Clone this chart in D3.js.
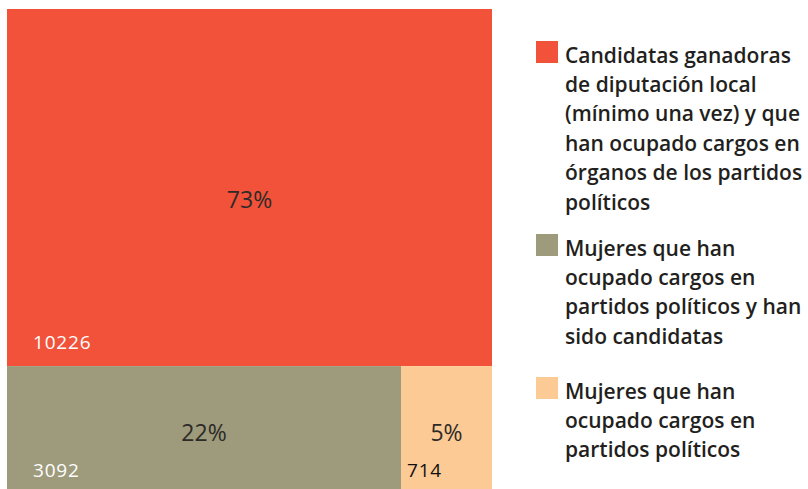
<!DOCTYPE html>
<html><head><meta charset="utf-8">
<script src="https://cdn.jsdelivr.net/npm/d3@7"></script>
<style>html,body{margin:0;padding:0;background:#fff;overflow:hidden}</style>
</head><body>
<svg id="chart" width="808" height="489"></svg>
<script>
const categories = ["ganadoras", "candidatas", "cargos"];
const values = [10226, 3092, 714];
const percents = ["73%", "22%", "5%"];
const colors = ["#F15239", "#9D9B7B", "#FCCA95"];
const legendLabels = [
  ["Candidatas ganadoras", "de diputación local", "(mínimo una vez) y que", "han ocupado cargos en", "órganos de los partidos", "políticos"],
  ["Mujeres que han", "ocupado cargos en", "partidos políticos y han", "sido candidatas"],
  ["Mujeres que han", "ocupado cargos en", "partidos políticos"]
];

const svg = d3.select("#chart");
const tm = {x0: 7, y0: 9, x1: 492, y1: 499};

const data = {name: "root", children: [
  {name: categories[0], value: values[0], i: 0},
  {name: "rest", children: [
    {name: categories[1], value: values[1], i: 1},
    {name: categories[2], value: values[2], i: 2}
  ]}
]};
const root = d3.hierarchy(data).sum(d => d.value || 0);
d3.treemap()
  .size([tm.x1 - tm.x0, tm.y1 - tm.y0])
  .tile((node, x0, y0, x1, y1) => node.depth === 0 ? d3.treemapSlice(node, x0, y0, x1, y1) : d3.treemapDice(node, x0, y0, x1, y1))
  .round(false)(root);

const g = svg.append("g").attr("transform", `translate(${tm.x0},${tm.y0})`);
const leaves = root.leaves();
const cell = g.selectAll("g.cell").data(leaves).join("g").attr("class", "cell");
cell.append("rect")
  .attr("x", d => d.x0).attr("y", d => d.y0)
  .attr("width", d => d.x1 - d.x0).attr("height", d => d.y1 - d.y0)
  .attr("fill", d => colors[d.data.i]);

cell.append("text")
  .attr("x", d => (d.x0 + d.x1) / 2)
  .attr("y", d => d.data.i === 0 ? (d.y0 + d.y1) / 2 + 20 : (d.y0 + d.y1) / 2 + 8)
  .attr("text-anchor", "middle")
  .style("font-family", "'Open Sans', sans-serif")
  .style("font-size", "23px")
  .attr("fill", "#2e2a28")
  .text(d => percents[d.data.i]);

cell.append("text")
  .attr("x", d => d.x0 + Math.min(26, (d.x1 - d.x0) * 0.066))
  .attr("y", d => d.data.i === 0 ? d.y1 - 17 : d.y1 - 22)
  .style("font-family", "'Open Sans', sans-serif")
  .style("font-size", "19px")
  .style("letter-spacing", "0.8px")
  .attr("fill", d => d.data.i === 2 ? "#111" : "#fff")
  .text(d => values[d.data.i]);

// Legend
const legendTop = [41, 234, 377];
const lineH = 29.4;
const lg = svg.append("g");
legendLabels.forEach((lines, k) => {
  const grp = lg.append("g").attr("transform", `translate(536,${legendTop[k]})`);
  grp.append("rect").attr("width", 22).attr("height", 22).attr("fill", colors[k]);
  grp.append("text")
    .style("font-family", "'Open Sans', sans-serif")
    .style("font-size", "21px")
    .style("font-weight", "600")
    .attr("fill", "#231f20")
    .selectAll("tspan").data(lines).join("tspan")
    .attr("x", 29)
    .attr("y", (d, j) => 21.5 + j * lineH)
    .text(d => d);
});
</script>
</body></html>
